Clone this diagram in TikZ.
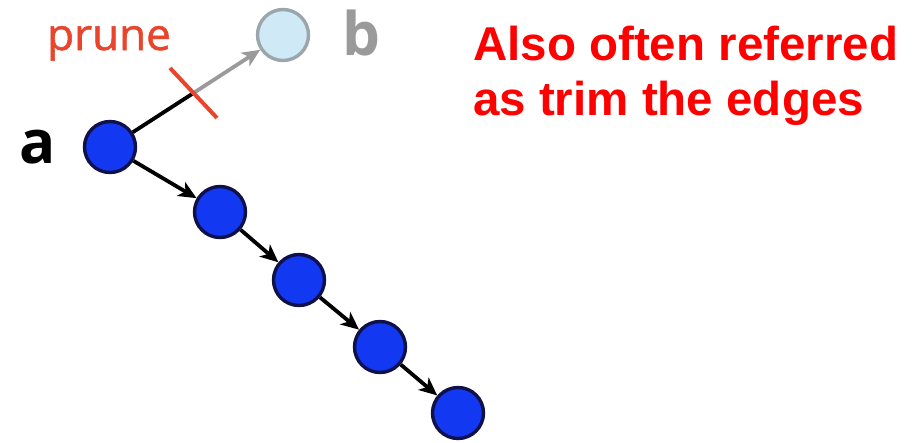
\documentclass[tikz,border=0pt]{standalone}
\usepackage{fontspec}
\setmainfont{Open Sans}
\newfontfamily\arialfont{Liberation Sans}
\newfontfamily\prunefont[FakeBold=1.2]{Open Sans}
\usetikzlibrary{arrows.meta}
\definecolor{nodeblue}{HTML}{1238F2}
\definecolor{nodeedge}{HTML}{10104A}
\definecolor{ghostfill}{HTML}{CFE9F6}
\definecolor{ghostedge}{HTML}{9AA6AC}
\definecolor{ghostline}{HTML}{9A9A9A}
\definecolor{prunered}{HTML}{E8452C}
\begin{document}
\begin{tikzpicture}[x=1pt,y=-1pt,
  vert/.style={circle,minimum size=51pt,inner sep=0pt,fill=nodeblue,draw=nodeedge,line width=3.4pt},
  ghost/.style={circle,minimum size=51pt,inner sep=0pt,fill=ghostfill,draw=ghostedge,line width=3.4pt},
  tip/.style={-{Stealth[length=18pt,width=16pt,inset=5pt]}},
  edge/.style={line width=3.8pt,tip},
  lab/.style={font=\fontsize{60}{62}\selectfont\bfseries,inner sep=0pt},
  big/.style={font=\arialfont\bfseries\fontsize{47.5}{55}\selectfont,text=red,anchor=base west,inner sep=0pt}]
\useasboundingbox (0,0) rectangle (924,442);
\node[vert] (a) at (110,147) {};
\node[ghost] (b) at (283,35) {};
\node[vert] (n2) at (220,212) {};
\node[vert] (n3) at (299,280) {};
\node[vert] (n4) at (380,347) {};
\node[vert] (n5) at (458,413) {};
\coordinate (cut) at (192,94);
\coordinate (p1) at (170,68);
\coordinate (p2) at (217,118);
\draw[line width=3.8pt,black] (a) -- (cut);
\draw[line width=3.8pt,ghostline,tip] (cut) -- (b);
\draw[line width=4pt,prunered] (p1) -- (p2);
\draw[edge] (a) -- (n2);
\draw[edge] (n2) -- (n3);
\draw[edge] (n3) -- (n4);
\draw[edge] (n4) -- (n5);
\node[lab,anchor=base] (la) at (38,163) {a};
\node[lab,anchor=base,text=ghostline] (lb) at (361,55) {b};
\node[font=\prunefont\fontsize{44}{46}\selectfont,text=prunered,anchor=base,inner sep=0pt] (lp) at (109,50) {prune};
\node[big] (t1) at (473,60) {Also often referred};
\node[big] (t2) at (473,115) {as trim the edges};
\end{tikzpicture}
\end{document}
